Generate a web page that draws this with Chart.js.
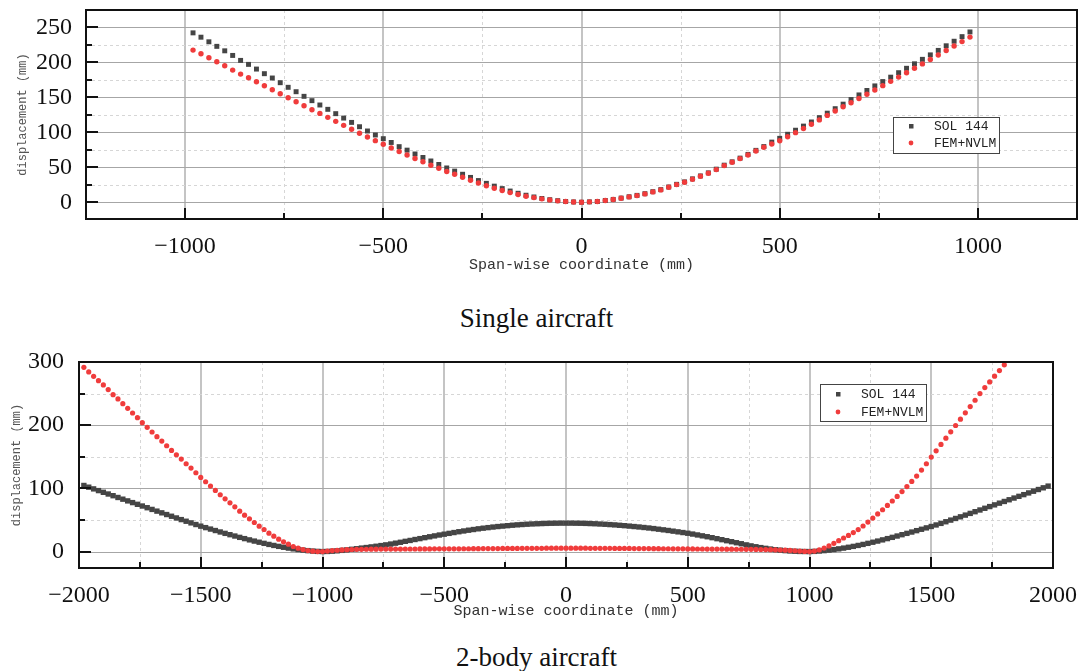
<!DOCTYPE html>
<html>
<head>
<meta charset="utf-8">
<title>Span-wise displacement</title>
<script src="https://cdn.jsdelivr.net/npm/chart.js@4.4.0/dist/chart.umd.min.js"></script>
<style>
  body { margin: 0; background: #fff; }
  #page { position: relative; width: 1081px; height: 671px; overflow: hidden; background: #fff; }
  canvas { position: absolute; left: 0; }
  .caption {
    position: absolute; left: 0; width: 1073px; text-align: center;
    font: 27px 'Liberation Serif', 'Times New Roman', serif; line-height: 32px; color: #111;
  }
</style>
</head>
<body>
<div id="page">
  <canvas id="singleChart" width="1081" height="280" style="top:0"></canvas>
  <div class="caption" style="top:302px">Single aircraft</div>
  <canvas id="twinChart" width="1081" height="290" style="top:340px"></canvas>
  <div class="caption" style="top:641px">2-body aircraft</div>
</div>
<script>
// Single aircraft: span stations (mm) and vertical displacement (mm)
const singleSpan = [
  -980, -960, -940, -920, -900, -880, -860, -840, -820, -800,
  -780, -760, -740, -720, -700, -680, -660, -640, -620, -600,
  -580, -560, -540, -520, -500, -480, -460, -440, -420, -400,
  -380, -360, -340, -320, -300, -280, -260, -240, -220, -200,
  -180, -160, -140, -120, -100, -80, -60, -40, -20, 0,
  20, 40, 60, 80, 100, 120, 140, 160, 180, 200,
  220, 240, 260, 280, 300, 320, 340, 360, 380, 400,
  420, 440, 460, 480, 500, 520, 540, 560, 580, 600,
  620, 640, 660, 680, 700, 720, 740, 760, 780, 800,
  820, 840, 860, 880, 900, 920, 940, 960, 980
];
const singleSol144 = [
  242.3, 236.1, 229.5, 223.0, 216.6, 210.0, 202.9, 197.2, 190.5, 183.9,
  177.7, 171.0, 164.4, 158.1, 151.5, 145.3, 139.1, 132.9, 126.7, 120.4,
  114.2, 108.0, 101.9, 96.2, 90.9, 85.5, 79.5, 74.5, 69.0, 64.0,
  59.0, 54.0, 49.0, 44.5, 40.0, 35.5, 31.0, 27.0, 23.0, 19.5,
  16.0, 12.8, 10.0, 7.5, 5.4, 3.6, 2.2, 1.1, 0.4, 0,
  0.5, 1.0, 2.5, 4.0, 5.9, 7.8, 9.8, 12.2, 15.1, 18.0,
  21.8, 25.6, 29.1, 33.4, 37.6, 42.0, 47.3, 53.0, 57.8, 63.1,
  68.4, 74.2, 79.6, 86.0, 91.4, 97.2, 103.0, 108.9, 114.8, 121.0,
  127.4, 133.8, 140.3, 146.9, 153.5, 159.9, 166.4, 172.6, 178.9, 185.3,
  191.6, 198.0, 204.4, 210.8, 217.2, 223.8, 230.3, 236.9, 243.6
];
const singleFemNvlm = [
  217.6, 212.4, 206.7, 201.0, 195.3, 189.0, 183.3, 178.1, 172.4, 166.7,
  161.0, 155.2, 149.5, 143.8, 138.1, 132.4, 127.1, 121.4, 115.7, 110.0,
  104.3, 98.6, 93.4, 88.1, 82.9, 77.5, 72.5, 67.5, 62.5, 58.0,
  53.0, 48.6, 44.0, 40.0, 35.7, 31.5, 27.5, 23.5, 20.0, 16.8,
  13.8, 11.0, 8.6, 6.6, 4.8, 3.3, 2.0, 1.0, 0.4, 0,
  0.5, 1.0, 2.4, 3.8, 5.7, 7.6, 9.5, 11.9, 14.8, 17.6,
  21.4, 25.2, 28.6, 32.9, 37.1, 41.4, 46.7, 52.4, 57.1, 62.4,
  67.6, 73.3, 78.6, 83.2, 87.9, 93.7, 99.5, 105.4, 111.5, 117.8,
  124.2, 130.4, 136.5, 142.4, 148.4, 154.5, 160.6, 166.8, 172.9, 179.0,
  185.3, 191.6, 197.9, 204.2, 210.6, 217.0, 223.4, 229.8, 236.2
];

// 2-body aircraft
const twinSpan = [
  -1980, -1960, -1940, -1920, -1900, -1880, -1860, -1840, -1820, -1800,
  -1780, -1760, -1740, -1720, -1700, -1680, -1660, -1640, -1620, -1600,
  -1580, -1560, -1540, -1520, -1500, -1480, -1460, -1440, -1420, -1400,
  -1380, -1360, -1340, -1320, -1300, -1280, -1260, -1240, -1220, -1200,
  -1180, -1160, -1140, -1120, -1100, -1080, -1060, -1040, -1020, -1000,
  -980, -960, -940, -920, -900, -880, -860, -840, -820, -800,
  -780, -760, -740, -720, -700, -680, -660, -640, -620, -600,
  -580, -560, -540, -520, -500, -480, -460, -440, -420, -400,
  -380, -360, -340, -320, -300, -280, -260, -240, -220, -200,
  -180, -160, -140, -120, -100, -80, -60, -40, -20, 0,
  20, 40, 60, 80, 100, 120, 140, 160, 180, 200,
  220, 240, 260, 280, 300, 320, 340, 360, 380, 400,
  420, 440, 460, 480, 500, 520, 540, 560, 580, 600,
  620, 640, 660, 680, 700, 720, 740, 760, 780, 800,
  820, 840, 860, 880, 900, 920, 940, 960, 980, 1000,
  1020, 1040, 1060, 1080, 1100, 1120, 1140, 1160, 1180, 1200,
  1220, 1240, 1260, 1280, 1300, 1320, 1340, 1360, 1380, 1400,
  1420, 1440, 1460, 1480, 1500, 1520, 1540, 1560, 1580, 1600,
  1620, 1640, 1660, 1680, 1700, 1720, 1740, 1760, 1780, 1800,
  1820, 1840, 1860, 1880, 1900, 1920, 1940, 1960, 1980
];
const twinSol144 = [
  104.6, 101.9, 99.2, 96.5, 93.8, 91.1, 88.4, 85.6, 82.9, 80.2,
  77.5, 74.8, 72.1, 69.4, 66.7, 64.0, 61.3, 58.6, 55.9, 53.2,
  50.6, 48.0, 45.4, 42.8, 40.2, 37.9, 35.6, 33.3, 31.0, 28.8,
  26.7, 24.6, 22.5, 20.5, 18.5, 16.6, 14.8, 13.0, 11.3, 9.7,
  8.2, 6.8, 5.5, 4.3, 3.2, 2.3, 1.5, 0.8, 0.3, 0,
  0.2, 0.6, 1.2, 1.9, 2.7, 3.6, 4.5, 5.5, 6.4, 7.4,
  8.4, 9.5, 10.6, 11.9, 13.3, 14.7, 16.2, 17.6, 19.1, 20.5,
  22.0, 23.4, 24.8, 26.2, 27.5, 28.8, 30.1, 31.4, 32.6, 33.8,
  34.9, 36.0, 37.0, 37.9, 38.8, 39.6, 40.3, 41.0, 41.7, 42.3,
  42.8, 43.3, 43.7, 44.0, 44.3, 44.6, 44.8, 44.9, 45.0, 45.0,
  45.0, 44.9, 44.8, 44.6, 44.3, 44.0, 43.6, 43.2, 42.7, 42.2,
  41.6, 41.0, 40.3, 39.6, 38.9, 38.1, 37.3, 36.4, 35.4, 34.4,
  33.4, 32.3, 31.2, 30.1, 29.0, 27.7, 26.3, 24.9, 23.5, 22.0,
  20.4, 18.8, 17.2, 15.6, 14.0, 12.4, 10.6, 9.0, 7.6, 6.3,
  5.1, 4.0, 3.0, 2.2, 1.5, 0.9, 0.5, 0.2, 0.1, 0,
  0.3, 0.8, 1.5, 2.3, 3.2, 4.3, 5.5, 6.8, 8.2, 9.7,
  11.3, 13.0, 14.8, 16.6, 18.5, 20.5, 22.5, 24.6, 26.7, 28.8,
  30.9, 33.1, 35.3, 37.5, 39.7, 42.1, 44.6, 47.2, 49.8, 52.4,
  55.0, 57.7, 60.4, 63.1, 65.8, 68.5, 71.2, 73.9, 76.6, 79.3,
  82.0, 84.7, 87.4, 90.1, 92.8, 95.5, 98.2, 100.9, 103.6
];
// FEM+NVLM runs off the top of the plot after 1800 mm
const twinFemNvlm = [
  291.6, 284.3, 277.4, 270.5, 263.7, 256.3, 248.3, 241.5, 234.1, 226.7,
  219.3, 211.9, 204.0, 196.6, 189.2, 181.8, 174.9, 167.5, 160.1, 153.2,
  146.4, 139.0, 132.1, 124.7, 117.3, 110.5, 103.6, 96.7, 89.9, 83.5,
  77.2, 70.8, 64.0, 57.6, 51.8, 46.0, 40.2, 34.9, 29.1, 24.4,
  19.6, 15.4, 11.7, 8.0, 5.3, 3.2, 1.6, 0.6, 0, 0,
  0.8, 1.5, 2.1, 2.6, 3.0, 3.3, 3.5, 3.6, 3.7, 3.8,
  3.8, 3.9, 3.9, 4.0, 4.0, 4.0, 4.1, 4.1, 4.1, 4.2,
  4.2, 4.2, 4.3, 4.3, 4.3, 4.3, 4.4, 4.4, 4.5, 4.5,
  4.6, 4.6, 4.7, 4.7, 4.8, 4.8, 4.9, 4.9, 5.0, 5.0,
  5.1, 5.1, 5.2, 5.2, 5.2, 5.3, 5.3, 5.3, 5.3, 5.3,
  5.3, 5.3, 5.3, 5.3, 5.2, 5.2, 5.2, 5.1, 5.1, 5.0,
  5.0, 4.9, 4.9, 4.8, 4.8, 4.7, 4.7, 4.6, 4.6, 4.5,
  4.5, 4.4, 4.4, 4.3, 4.2, 4.2, 4.1, 4.1, 4.0, 4.0,
  3.9, 3.9, 3.8, 3.8, 3.7, 3.7, 3.6, 3.5, 3.4, 3.3,
  3.2, 3.0, 2.8, 2.5, 2.2, 1.8, 1.3, 0.8, 0.3, 0,
  0.8, 2.6, 5.5, 9.0, 13.0, 17.2, 21.5, 25.5, 30.0, 34.8,
  40.5, 46.6, 53.0, 59.6, 66.2, 73.0, 80.0, 87.3, 94.9, 102.8,
  111.0, 119.5, 129.0, 139.0, 149.5, 159.5, 169.5, 179.5, 189.5, 199.5,
  209.5, 219.5, 229.5, 239.5, 250.0, 259.5, 268.5, 277.5, 286.5, 295.5
];

const SOL_COLOR = '#454545';
const FEM_COLOR = '#f03c3c';
const SERIF = "'Liberation Serif', 'Times New Roman', serif";
const MONO = "'Liberation Mono', 'DejaVu Sans Mono', monospace";

function toPoints(xs, ys) {
  return ys.map((y, i) => ({ x: xs[i], y: y }));
}

function signed(value) {
  return value < 0 ? '\u2212' + Math.abs(value) : String(value);
}

// multiples of step that fall inside the scale range
function stepsIn(scale, step) {
  const out = [];
  for (let v = Math.ceil(scale.min / step) * step; v <= scale.max + 1e-9; v += step) out.push(v);
  return out;
}

// grid, inward ticks, heavy frame and a boxed legend inside the plot
const spanFrame = {
  id: 'spanFrame',
  beforeDatasetsDraw(chart, args, opts) {
    const { ctx, chartArea: a, scales: { x, y } } = chart;
    ctx.save();
    stepsIn(x, opts.xMinor).forEach(v => {
      const px = Math.round(x.getPixelForValue(v));
      const major = v % opts.xMajor === 0;
      ctx.strokeStyle = major ? '#c4c4c4' : '#d6d6d6';
      ctx.lineWidth = major ? 2 : 1;
      ctx.setLineDash(major ? [] : [3, 3]);
      ctx.beginPath();
      ctx.moveTo(px + (major ? 0 : 0.5), a.top);
      ctx.lineTo(px + (major ? 0 : 0.5), a.bottom);
      ctx.stroke();
    });
    ctx.lineWidth = 1;
    stepsIn(y, opts.yMinor).forEach(v => {
      const py = Math.round(y.getPixelForValue(v)) + 0.5;
      const major = v % opts.yMajor === 0;
      ctx.strokeStyle = major ? '#a6a6a6' : '#d6d6d6';
      ctx.setLineDash(major ? [] : [3, 3]);
      ctx.beginPath();
      ctx.moveTo(a.left, py);
      ctx.lineTo(a.right, py);
      ctx.stroke();
    });
    ctx.restore();
  },
  afterDatasetsDraw(chart, args, opts) {
    const { ctx, chartArea: a, scales: { x, y } } = chart;
    ctx.save();
    ctx.strokeStyle = '#111';
    ctx.lineWidth = 2;
    ctx.setLineDash([]);
    stepsIn(x, opts.xMinor).forEach(v => {
      const px = Math.round(x.getPixelForValue(v));
      const len = v % opts.xMajor === 0 ? 11 : 6;
      ctx.beginPath();
      ctx.moveTo(px, a.bottom);
      ctx.lineTo(px, a.bottom - len);
      ctx.stroke();
    });
    stepsIn(y, opts.yMinor).forEach(v => {
      const py = Math.round(y.getPixelForValue(v));
      const len = v % opts.yMajor === 0 ? 12 : 6;
      ctx.beginPath();
      ctx.moveTo(a.left, py);
      ctx.lineTo(a.left + len, py);
      ctx.stroke();
    });
    ctx.strokeRect(a.left, a.top, a.right - a.left, a.bottom - a.top);

    // legend box
    const lg = opts.legend;
    const bx = Math.round(a.left + (a.right - a.left) * lg.x);
    const by = Math.round(a.top + (a.bottom - a.top) * lg.y);
    ctx.fillStyle = '#fff';
    ctx.fillRect(bx, by, lg.w, lg.h);
    ctx.strokeStyle = '#444';
    ctx.lineWidth = 1;
    ctx.strokeRect(bx + 0.5, by + 0.5, lg.w, lg.h);
    ctx.font = '13px ' + MONO;
    ctx.textBaseline = 'middle';
    chart.data.datasets.forEach((ds, i) => {
      const cy = by + lg.first + i * lg.gap;
      const mx = bx + 18;
      ctx.fillStyle = ds.pointBackgroundColor;
      if (ds.pointStyle === 'rect') {
        ctx.fillRect(mx - 2, cy - 2, 4.5, 4.5);
      } else {
        ctx.beginPath();
        ctx.arc(mx, cy, 2.4, 0, Math.PI * 2);
        ctx.fill();
      }
      ctx.fillStyle = '#222';
      ctx.fillText(ds.label, bx + 41, cy + 1);
    });
    ctx.restore();
  }
};

function spanChart(canvasId, o) {
  return new Chart(document.getElementById(canvasId), {
    type: 'scatter',
    data: {
      datasets: [{
        label: 'SOL 144',
        data: toPoints(o.span, o.sol),
        pointStyle: 'rect',
        pointRadius: o.squareRadius,
        pointBackgroundColor: SOL_COLOR,
        pointBorderWidth: 0,
        order: 2
      }, {
        label: 'FEM+NVLM',
        data: toPoints(o.span, o.fem),
        pointStyle: 'circle',
        pointRadius: o.dotRadius,
        pointBackgroundColor: FEM_COLOR,
        pointBorderWidth: 0,
        order: 1
      }]
    },
    options: {
      responsive: false,
      animation: false,
      events: [],
      layout: { padding: o.padding },
      plugins: {
        legend: { display: false },
        tooltip: { enabled: false },
        spanFrame: {
          xMajor: o.xMajor, xMinor: o.xMajor / 2,
          yMajor: o.yMajor, yMinor: o.yMajor / 2,
          legend: o.legend
        }
      },
      scales: {
        x: {
          type: 'linear',
          min: o.xMin, max: o.xMax,
          grid: { display: false, drawTicks: false },
          border: { display: false },
          ticks: {
            autoSkip: false, maxRotation: 0,
            padding: o.xTickPad, color: '#111',
            font: { family: SERIF, size: 24 },
            callback: signed
          },
          title: {
            display: true, text: 'Span-wise coordinate (mm)', color: '#333',
            font: { family: MONO, size: 15 },
            padding: { top: 0, bottom: o.xTitlePad }
          },
          afterBuildTicks: s => { s.ticks = stepsIn(s, o.xMajor).map(v => ({ value: v })); },
          afterFit: s => { s.height = o.xAxisHeight; s.paddingLeft = 0; s.paddingRight = 0; }
        },
        y: {
          type: 'linear',
          min: o.yMin, max: o.yMax,
          grid: { display: false, drawTicks: false },
          border: { display: false },
          ticks: {
            autoSkip: false,
            padding: o.yTickPad, color: '#111',
            font: { family: SERIF, size: 24 },
            callback: signed
          },
          title: {
            display: true, text: 'displacement (mm)', color: '#555',
            font: { family: MONO, size: 12 },
            padding: { top: o.yTitlePad, bottom: 0 }
          },
          afterBuildTicks: s => { s.ticks = stepsIn(s, o.yMajor).map(v => ({ value: v })); },
          afterFit: s => { s.width = o.yAxisWidth; s.paddingTop = 0; s.paddingBottom = 0; }
        }
      }
    },
    plugins: [spanFrame]
  });
}

spanChart('singleChart', {
  span: singleSpan, sol: singleSol144, fem: singleFemNvlm,
  squareRadius: 3.5, dotRadius: 2.7,
  xMin: -1250, xMax: 1250, xMajor: 500,
  yMin: -24, yMax: 275, yMajor: 50,
  padding: { top: 10, right: 3, left: 0, bottom: 0 },
  yAxisWidth: 86, xAxisHeight: 61,
  xTickPad: 13, yTickPad: 14, xTitlePad: 6, yTitlePad: 16,
  legend: { x: 0.8145, y: 0.512, w: 106, h: 36, first: 9, gap: 17 }
});

spanChart('twinChart', {
  span: twinSpan, sol: twinSol144, fem: twinFemNvlm,
  squareRadius: 3.8, dotRadius: 2.6,
  xMin: -2000, xMax: 2000, xMajor: 500,
  yMin: -26, yMax: 300, yMajor: 100,
  padding: { top: 22, right: 28, left: 0, bottom: 0 },
  yAxisWidth: 79, xAxisHeight: 62,
  xTickPad: 13, yTickPad: 15, xTitlePad: 10, yTitlePad: 10,
  legend: { x: 0.7608, y: 0.1068, w: 106, h: 37, first: 10, gap: 18 }
});
</script>
</body>
</html>
